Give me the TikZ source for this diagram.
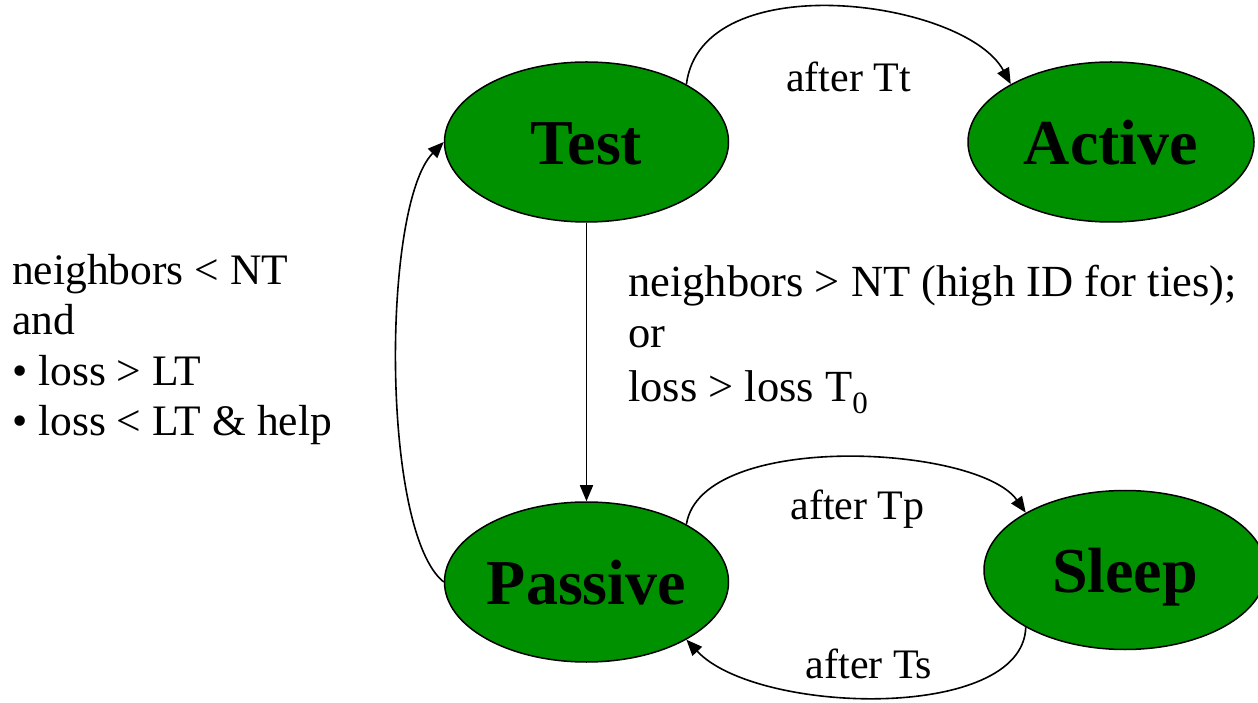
\documentclass[tikz,border=0pt]{standalone}
\usepackage{fontspec}
\setmainfont{Liberation Serif}
\usetikzlibrary{arrows.meta,shapes.geometric}
\definecolor{stategreen}{RGB}{0,145,0}
\begin{document}
\begin{tikzpicture}[x=1pt,y=1pt,
  state/.style={ellipse, draw=black, line width=1.5pt, fill=stategreen,
    minimum width=284pt, minimum height=160pt, inner sep=0pt,
    text height=45pt, text depth=0pt,
    font=\fontsize{64}{70}\selectfont\bfseries},
  lbl/.style={inner sep=0pt, anchor=base west, font=\fontsize{43.5}{50}\selectfont},
  mlbl/.style={inner sep=0pt, anchor=base west, font=\fontsize{44.5}{50}\selectfont},
  elbl/.style={inner sep=0pt, anchor=base, font=\fontsize{42}{50}\selectfont},
  conn/.style={line width=1.6pt, -{Triangle[length=16pt,width=13pt]}}]
\useasboundingbox (0,0) rectangle (1258,702);

\node[state] (Test) at (586.5,560) {Test};
\node[state, minimum width=286pt] (Active) at (1111,560) {Active};
\node[state] (Passive) at (586.5,120) {Passive};
\node[state, minimum width=282pt, minimum height=159pt] (Sleep) at (1125,132) {Sleep};

\draw[conn] (Test.30) .. controls +(15,120) and +(-46,85) .. (Active.150);
\draw[conn] (Test.south) -- (Passive.north);
\draw[conn] (Passive.30) .. controls +(15,94) and +(-48,68) .. (Sleep.150);
\draw[conn] (Sleep.210) .. controls +(-3,-95) and +(70,-75) .. (Passive.-30);
\draw[conn] (Passive.west) .. controls +(-63,50) and +(-62,-63) .. (Test.west);

\node[elbl] (lTt) at (848.6,610.3) {after Tt};
\node[elbl] (lTp) at (857.5,183) {after Tp};
\node[elbl] (lTs) at (869,24) {after Ts};

\node[lbl] (a1) at (12,417) {neighbors < NT};
\node[lbl] (a2) at (12,367) {and};
\node[lbl] (a3) at (12,316) {• loss > LT};
\node[lbl] (a4) at (12,266) {• loss < LT \& help};

\node[mlbl] (b1) at (628,405) {neighbors > NT (high ID for ties);};
\node[mlbl] (b2) at (628,354) {or};
\node[mlbl] (b3) at (628,300) {loss > loss T\raisebox{-12pt}{\fontsize{31}{32}\selectfont 0}};
\end{tikzpicture}
\end{document}
